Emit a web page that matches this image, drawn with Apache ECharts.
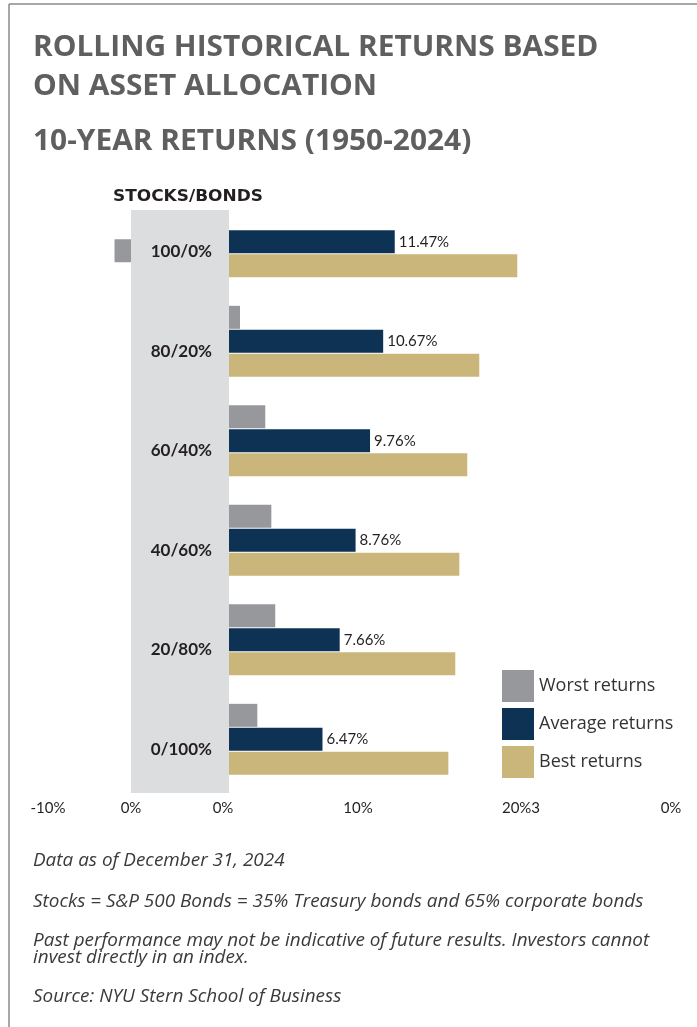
<!DOCTYPE html>
<html>
<head>
<meta charset="utf-8">
<script src="https://cdn.jsdelivr.net/npm/echarts@6/dist/echarts.min.js"></script>
<style>
  html, body { margin: 0; padding: 0; background: #fff; }
  #chart { width: 697px; height: 1027px; }
</style>
</head>
<body>
<div id="chart"></div>
<script>
const categories = ['100/0%', '80/20%', '60/40%', '40/60%', '20/80%', '0/100%']
const worstReturns = [-1.14, 0.76, 2.51, 2.93, 3.2, 1.96]
const averageReturns = [11.47, 10.67, 9.76, 8.76, 7.66, 6.47]
const bestReturns = [19.95, 17.32, 16.49, 15.94, 15.66, 15.18]
const seriesNames = ['Worst returns', 'Average returns', 'Best returns']
const tickLabels = ['-10%', '0%', '0%', '10%', '20%3', '0%']
const titleLines = ['ROLLING HISTORICAL RETURNS BASED', 'ON ASSET ALLOCATION']
const subTitle = '10-YEAR RETURNS (1950-2024)'
const axisTitle = 'STOCKS/BONDS'
const notes = [
  'Data as of December 31, 2024',
  'Stocks = S&P 500 Bonds = 35% Treasury bonds and 65% corporate bonds',
  'Past performance may not be indicative of future results. Investors cannot\ninvest directly in an index.',
  'Source: NYU Stern School of Business'
]

// layout
const tickX = [48, 131, 223, 358, 521, 671]
const noteY = [861, 902, 949, 997]
const colors = { worst: '#97989c', average: '#0d3254', best: '#cab67a' }
const labelFont = 'Lato'

const chart = echarts.init(document.getElementById('chart'))

const graphics = [
  { type: 'line', shape: { x1: 9, y1: 4, x2: 697, y2: 4 }, style: { stroke: '#8a8a8a', lineWidth: 1.5 } },
  { type: 'line', shape: { x1: 9, y1: 4, x2: 9, y2: 1027 }, style: { stroke: '#8a8a8a', lineWidth: 1.5 } },
  { type: 'rect', z: -10, shape: { x: 131, y: 210, width: 98, height: 583 }, style: { fill: '#dcdddf' } },
  {
    type: 'text', x: 33, y: 48, scaleX: 1.03,
    style: { text: titleLines[0], font: 'bold 29px "Open Sans"', fill: '#5f5f5f', verticalAlign: 'middle' }
  },
  {
    type: 'text', x: 33, y: 87, scaleX: 1.03,
    style: { text: titleLines[1], font: 'bold 29px "Open Sans"', fill: '#5f5f5f', verticalAlign: 'middle' }
  },
  {
    type: 'text', x: 33, y: 142, scaleX: 1.03,
    style: { text: subTitle, font: 'bold 29px "Open Sans"', fill: '#5f5f5f', verticalAlign: 'middle' }
  },
  {
    type: 'text', x: 113, y: 197, scaleX: 1.13,
    style: { text: axisTitle, font: 'bold 15px "DejaVu Sans"', fill: '#231f20', verticalAlign: 'middle' }
  }
]

tickLabels.forEach((t, i) => {
  graphics.push({
    type: 'text', x: tickX[i], y: 808,
    style: { text: t, font: '15px ' + labelFont, fill: '#231f20', align: 'center', verticalAlign: 'middle' }
  })
})

notes.forEach((t, i) => {
  graphics.push({
    type: 'text', x: 33, y: noteY[i], scaleX: 1.05,
    style: {
      text: t, font: 'italic 18px "Open Sans"', fill: '#3a3a3a',
      lineHeight: 17, verticalAlign: 'middle'
    }
  })
})

const barBase = { type: 'bar', barWidth: 23, barGap: '4%', silent: true }

const option = {
  animation: false,
  legend: {
    data: seriesNames,
    orient: 'vertical',
    left: 502,
    top: 670,
    padding: 0,
    itemWidth: 32,
    itemHeight: 32,
    itemGap: 6,
    icon: 'rect',
    selectedMode: false,
    textStyle: { fontFamily: 'Open Sans', fontSize: 18, color: '#333' }
  },
  grid: [
    { left: 229, right: 34.5, top: 192, height: 597 },
    { left: 44.3, right: 566, top: 201, height: 597 }
  ],
  xAxis: [
    { type: 'value', gridIndex: 0, min: 0, max: 30, show: false },
    { type: 'value', gridIndex: 1, min: -6, max: 0, show: false }
  ],
  yAxis: [
    {
      type: 'category', gridIndex: 0, data: categories, inverse: true,
      axisLine: { show: false }, axisTick: { show: false },
      axisLabel: {
        margin: 17,
        formatter: (v) => '{c|' + v + '}',
        rich: {
          c: { padding: [20, 0, 0, 0], fontFamily: labelFont, fontWeight: 'bold', fontSize: 17, color: '#231f20' }
        }
      }
    },
    { type: 'category', gridIndex: 1, data: categories, inverse: true, show: false }
  ],
  series: [
    {
      ...barBase, name: seriesNames[0], xAxisIndex: 0, yAxisIndex: 0,
      itemStyle: { color: colors.worst },
      data: worstReturns.map((v) => (v >= 0 ? v : null))
    },
    {
      ...barBase, name: seriesNames[1], xAxisIndex: 0, yAxisIndex: 0,
      itemStyle: { color: colors.average },
      label: {
        show: true, position: 'right', distance: 4,
        formatter: (p) => p.value.toFixed(2) + '%',
        fontFamily: labelFont, fontSize: 15, color: '#231f20'
      },
      data: averageReturns
    },
    {
      ...barBase, name: seriesNames[2], xAxisIndex: 0, yAxisIndex: 0,
      itemStyle: { color: colors.best },
      data: bestReturns
    },
    {
      ...barBase, name: seriesNames[0], xAxisIndex: 1, yAxisIndex: 1,
      itemStyle: { color: colors.worst },
      data: worstReturns.map((v) => (v < 0 ? v : null))
    }
  ],
  graphic: graphics
}

chart.setOption(option)
</script>
</body>
</html>
